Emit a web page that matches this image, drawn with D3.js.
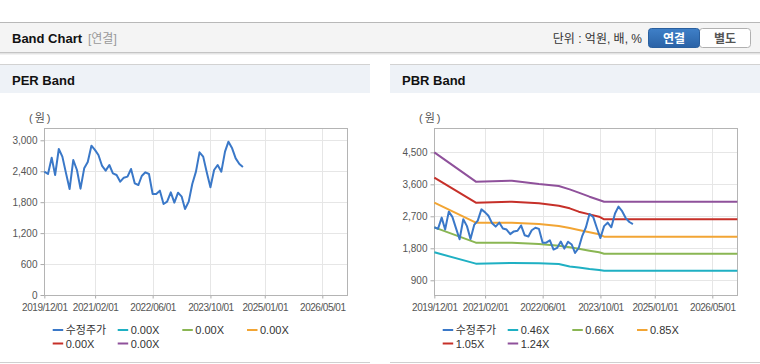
<!DOCTYPE html>
<html><head><meta charset="utf-8">
<script src="https://cdn.jsdelivr.net/npm/d3@7"></script>
<style>
html,body{margin:0;padding:0;background:#fff;}
svg{display:block;font-family:"Liberation Sans",Arial,"Noto Sans CJK KR",sans-serif;}
</style></head><body>
<svg id="c" width="760" height="364"></svg>
<script>
// ---------- data ----------
const priceStart = "2019-12-01";
const priceEnd = "2024-08-01"; // exclusive, monthly points Dec 2019 .. Jul 2024
const priceValues = [2392,2346,2663,2327,2831,2683,2359,2055,2618,2424,2062,2456,2579,2896,2810,2715,
  2502,2411,2521,2359,2327,2198,2275,2295,2443,2165,2133,2308,2379,2346,1959,1959,2023,1765,1810,1991,
  1791,1984,1907,1668,1810,2152,2392,2767,2683,2372,2088,2424,2521,2392,2779,2973,2844,2650,2540,2482];
const bandDates = ["2019-12-01","2020-11-15","2021-09-15","2022-05-01","2022-10-15","2023-01-15",
  "2023-04-01","2023-07-01","2023-09-20","2023-11-01","2026-11-28"];
const pbrBand046 = [1687,1368,1387,1377,1358,1290,1260,1218,1190,1171,1171];
const pbrBand066 = [2390,1958,1958,1919,1874,1828,1790,1733,1687,1649,1649];
const pbrBand085 = [3083,2521,2521,2483,2427,2368,2315,2249,2193,2127,2127];
const pbrBand105 = [3786,3083,3111,3065,2999,2924,2830,2755,2690,2615,2615];
const pbrBand124 = [4500,3674,3702,3608,3552,3458,3365,3252,3160,3111,3111];
const priceLabel = "수정주가";
const perLegendLabels = ["0.00X","0.00X","0.00X","0.00X","0.00X"];
const pbrLegendLabels = ["0.46X","0.66X","0.85X","1.05X","1.24X"];
const xDomain = ["2019-12-01","2026-11-28"];
const xTickDates = ["2019-12-01","2021-02-01","2022-06-01","2023-10-01","2025-01-01","2026-05-01"];
const perYDomain = [0,3232];
const perYTicks = [0,600,1200,1800,2400,3000];
const pbrYDomain = [486,5175];
const pbrYTicks = [900,1800,2700,3600,4500];
const colors = ["#3a78c8","#1fb0c3","#8ab653","#f2a534","#c63029","#8f519b"];

// ---------- drawing ----------
const parse = d3.utcParse("%Y-%m-%d");
const svg = d3.select("#c");

// top header
svg.append("rect").attr("x",0).attr("y",22).attr("width",760).attr("height",31).attr("fill","#f4f4f4");
svg.append("line").attr("x1",0).attr("x2",760).attr("y1",22.5).attr("y2",22.5).attr("stroke","#b8b8b8");
svg.append("line").attr("x1",0).attr("x2",760).attr("y1",52.5).attr("y2",52.5).attr("stroke","#c4c4c4");
svg.append("line").attr("x1",0).attr("x2",760).attr("y1",53.5).attr("y2",53.5).attr("stroke","#e4e4e4");
svg.append("line").attr("x1",0).attr("x2",760).attr("y1",54.5).attr("y2",54.5).attr("stroke","#f2f2f2");
svg.append("text").attr("x",12).attr("y",43).attr("font-size",13).attr("font-weight","bold").attr("fill","#111").text("Band Chart");
svg.append("text").attr("x",88).attr("y",43).attr("font-size",12).attr("fill","#999").text("[연결]");
svg.append("text").attr("x",642).attr("y",43).attr("text-anchor","end").attr("font-size",12).attr("fill","#333").text("단위 : 억원, 배, %");
const grad = svg.append("defs").append("linearGradient").attr("id","btn").attr("x1",0).attr("x2",0).attr("y1",0).attr("y2",1);
grad.append("stop").attr("offset","0").attr("stop-color","#3f80c8");
grad.append("stop").attr("offset","1").attr("stop-color","#2a62a6");
svg.append("rect").attr("x",699.5).attr("y",28.5).attr("width",51).attr("height",19).attr("rx",3).attr("fill","#fff").attr("stroke","#b0b0b0");
svg.append("rect").attr("x",648.5).attr("y",28.5).attr("width",51).attr("height",19).attr("rx",3).attr("fill","url(#btn)").attr("stroke","#2a5f9e");
svg.append("text").attr("x",674).attr("y",42.5).attr("text-anchor","middle").attr("font-size",12).attr("font-weight","bold").attr("fill","#fff").text("연결");
svg.append("text").attr("x",725).attr("y",42.5).attr("text-anchor","middle").attr("font-size",12).attr("font-weight","bold").attr("fill","#555").text("별도");

const priceData = d3.utcMonth.range(parse(priceStart), parse(priceEnd)).map((d,i)=>({d, v: priceValues[i]}));

function panel(ox, title, yDomain, yTicks, bands, legendLabels){
  const g = svg.append("g").attr("transform",`translate(${ox},0)`);
  g.append("rect").attr("x",0).attr("y",64).attr("width",370).attr("height",29).attr("fill","#eef2f7");
  g.append("line").attr("x1",0).attr("x2",370).attr("y1",64.5).attr("y2",64.5).attr("stroke","#d2d2d2");
  g.append("line").attr("x1",0).attr("x2",370).attr("y1",362.5).attr("y2",362.5).attr("stroke","#d0d0d0");
  g.append("text").attr("x",12).attr("y",85).attr("font-size",13).attr("font-weight","bold").attr("fill","#111").text(title);

  const L=44.33, R=347.33, T=128.33, B=295;
  const x = d3.scaleUtc().domain(xDomain.map(parse)).range([L,R]);
  const y = d3.scaleLinear().domain(yDomain).range([B,T]);

  // grid
  g.append("g").selectAll("line").data(xTickDates.map(parse)).join("line")
    .attr("x1",d=>Math.round(x(d))+0.5).attr("x2",d=>Math.round(x(d))+0.5).attr("y1",T).attr("y2",B)
    .attr("stroke","#e6e6e6");
  g.append("g").selectAll("line").data(yTicks).join("line")
    .attr("x1",L).attr("x2",R).attr("y1",d=>Math.round(y(d))+0.5).attr("y2",d=>Math.round(y(d))+0.5)
    .attr("stroke","#e6e6e6");

  // axes
  const xa = g.append("g").attr("transform",`translate(0,${Math.round(B)+0.5})`)
    .call(d3.axisBottom(x).tickValues(xTickDates.map(parse)).tickFormat(d3.utcFormat("%Y/%m/%d")).tickSize(3).tickPadding(5).tickSizeOuter(0));
  xa.select(".domain").remove();
  xa.selectAll("line").attr("stroke","#aaa");
  xa.selectAll("text").attr("font-size",10).attr("letter-spacing","-0.45px").attr("fill","#555").attr("font-family",null);
  const ya = g.append("g").attr("transform",`translate(${Math.round(L)+0.5},0)`)
    .call(d3.axisLeft(y).tickValues(yTicks).tickFormat(d3.format(",")).tickSize(4).tickPadding(3).tickSizeOuter(0));
  ya.select(".domain").remove();
  ya.selectAll("line").attr("stroke","#aaa");
  ya.selectAll("text").attr("font-size",10).attr("fill","#555").attr("font-family",null);

  // plot frame
  g.append("rect").attr("x",Math.round(L)+0.5).attr("y",Math.round(T)+0.5)
    .attr("width",Math.round(R)-Math.round(L)).attr("height",Math.round(B)-Math.round(T))
    .attr("fill","none").attr("stroke","#b4b4b4");
  g.append("text").attr("x",29).attr("y",122).attr("font-size",11).attr("letter-spacing","2px").attr("fill","#555").text("(원)");

  const line = d3.line().x(d=>x(d.d)).y(d=>y(d.v));
  bands.forEach((b,i)=>{
    if(!b) return;
    const data = bandDates.map((d,j)=>({d:parse(d), v:b[j]}));
    g.append("path").datum(data).attr("d",line).attr("fill","none")
      .attr("stroke",colors[i+1]).attr("stroke-width",2).attr("stroke-linejoin","round");
  });
  g.append("path").datum(priceData).attr("d",line).attr("fill","none")
    .attr("stroke",colors[0]).attr("stroke-width",2).attr("stroke-linejoin","round");

  // legend
  const labels = [priceLabel].concat(legendLabels);
  const pos = [[52.7,330],[117.7,330],[182.3,330],[247,330],[52.7,343.5],[117.7,343.5]];
  const lg = g.append("g").selectAll("g").data(labels).join("g")
    .attr("transform",(d,i)=>`translate(${pos[i][0]},${pos[i][1]})`);
  lg.append("line").attr("x1",0).attr("x2",10.5).attr("y1",0).attr("y2",0)
    .attr("stroke",(d,i)=>colors[i]).attr("stroke-width",2);
  lg.append("text").attr("x",13).attr("y",4).attr("font-size",11).attr("fill","#333").text(d=>d);
}

panel(0, "PER Band", perYDomain, perYTicks, [null,null,null,null,null], perLegendLabels);
panel(390, "PBR Band", pbrYDomain, pbrYTicks, [pbrBand046,pbrBand066,pbrBand085,pbrBand105,pbrBand124], pbrLegendLabels);
</script>
</body></html>
